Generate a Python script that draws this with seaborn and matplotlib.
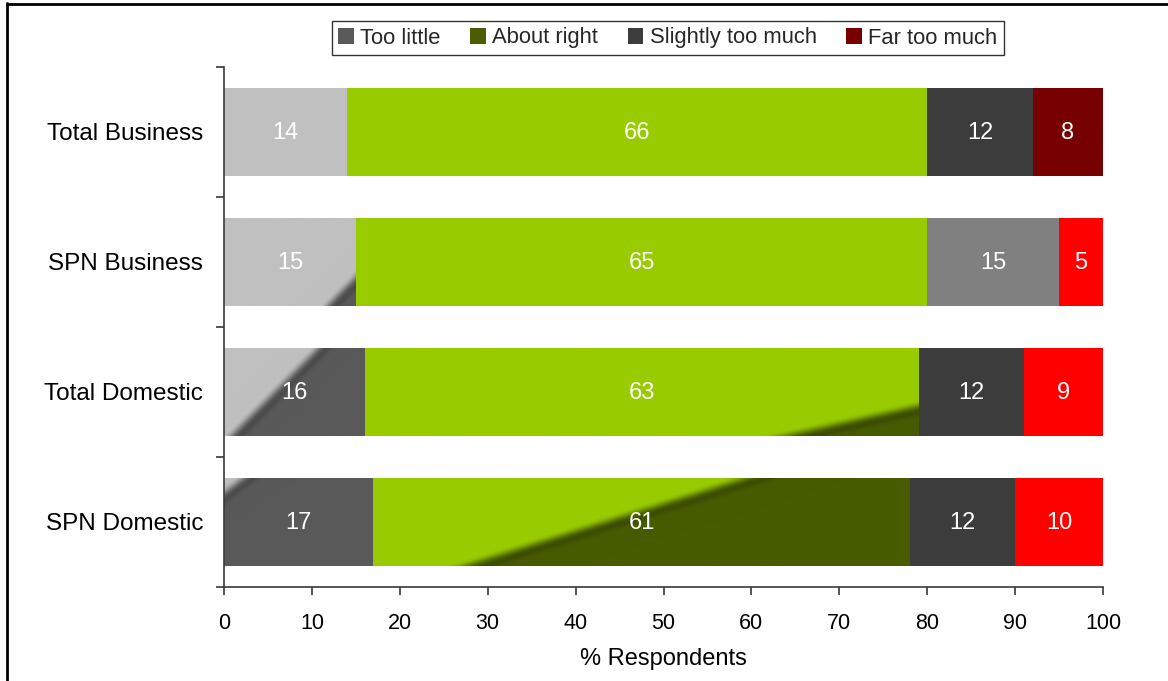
import numpy as np
import pandas as pd
import matplotlib
matplotlib.use("Agg")
import matplotlib.pyplot as plt
import seaborn as sns
from matplotlib.colors import to_rgb
from matplotlib.lines import Line2D
from matplotlib.patches import Patch

# ---- data -------------------------------------------------------------
groups = ["Total Business", "SPN Business", "Total Domestic", "SPN Domestic"]
series = ["Too little", "About right", "Slightly too much", "Far too much"]
too_little = [14, 15, 16, 17]
about_right = [66, 65, 63, 61]
slightly_too_much = [12, 15, 12, 12]
far_too_much = [8, 5, 9, 10]
x_ticks = [0, 10, 20, 30, 40, 50, 60, 70, 80, 90, 100]
x_title = "% Respondents"

# ---- styling ----------------------------------------------------------
legend_colors = {
    "Too little": "#595959",
    "About right": "#4a5e00",
    "Slightly too much": "#3c3c3c",
    "Far too much": "#770000",
}
bar_colors = {
    "Too little": ["#c0c0c0"] * 4,
    "About right": ["#99cc00"] * 4,
    "Slightly too much": ["#3c3c3c", "#808080", "#3c3c3c", "#3c3c3c"],
    "Far too much": ["#770000", "#ff0000", "#ff0000", "#ff0000"],
}
# diagonal two-tone shading: (light, dark, edge position at bar top, at bar bottom)
shading = {
    ("Too little", "SPN Business"): ("#c0c0c0", "#595959", 1.45, 0.80),
    ("Too little", "Total Domestic"): ("#c0c0c0", "#595959", 0.68, 0.064),
    ("Too little", "SPN Domestic"): ("#c0c0c0", "#595959", 0.14, -0.64),
    ("About right", "Total Domestic"): ("#99cc00", "#475b00", 1.47, 0.77),
    ("About right", "SPN Domestic"): ("#99cc00", "#475b00", 0.70, 0.178),
}

sns.set_theme(style="white")
plt.rcParams["font.family"] = ["Liberation Sans", "DejaVu Sans"]

W, H, DPI = 1168, 681, 100
fig = plt.figure(figsize=(W / DPI, H / DPI), dpi=DPI)
fig.patch.set_facecolor("white")
ax = fig.add_axes([224 / W, 1 - 587 / H, (1103 - 224) / W, (587 - 67) / H])

values = {
    "Too little": too_little,
    "About right": about_right,
    "Slightly too much": slightly_too_much,
    "Far too much": far_too_much,
}
df = pd.DataFrame({"group": groups, **values})
cum = df[series].cumsum(axis=1)
starts = cum - df[series]
for s in series:
    df["end_" + s] = cum[s]

bar_h = 0.67
containers = {}
# draw cumulative totals from the longest to the shortest so each segment shows
for s in reversed(series):
    sns.barplot(data=df, x="end_" + s, y="group", order=groups, orient="h",
                color=bar_colors[s][0], saturation=1, width=bar_h,
                errorbar=None, ax=ax, linewidth=0)
    containers[s] = ax.containers[-1]
    for patch, c in zip(containers[s].patches, bar_colors[s]):
        patch.set_facecolor(c)
        patch.set_edgecolor("none")

fig.canvas.draw()
pos = ax.get_position()
px_per_unit = pos.width * W / 100.0
px_per_cat = pos.height * H / 4.0


def two_tone(light, dark, u_top, u_bot, w_px, h_px, soft=14.0, nx=400, ny=120):
    light = np.array(to_rgb(light))
    dark = np.array(to_rgb(dark))
    u = np.linspace(0, 1, nx)[None, :]
    v = np.linspace(0, 1, ny)[:, None]
    u_line = u_top + (u_bot - u_top) * v
    dx = (u_bot - u_top) * w_px
    d = (u - u_line) * w_px * h_px / np.hypot(dx, h_px)
    t = np.clip(0.5 + d / soft, 0, 1)
    t = t * t * (3 - 2 * t)
    rgb = (1 - t)[..., None] * light + t[..., None] * dark
    # slightly deeper band along the edge, like a glossy fold
    band = np.exp(-((d - soft * 0.2) / (soft * 0.35)) ** 2)[..., None]
    return np.clip(rgb * (1 - 0.25 * band), 0, 1)


for s in series:
    for i, (patch, g) in enumerate(zip(containers[s].patches, groups)):
        left = starts.loc[i, s]
        right = cum.loc[i, s]
        y0 = patch.get_y()
        y1 = y0 + patch.get_height()
        if (s, g) in shading:
            light, dark, ut, ub = shading[(s, g)]
            img = two_tone(light, dark, ut, ub,
                           (right - left) * px_per_unit,
                           patch.get_height() * px_per_cat)
            ax.imshow(img, extent=(left, right, y1, y0), origin="upper",
                      aspect="auto", interpolation="bilinear", zorder=1.5)
        ax.text((left + right) / 2, (y0 + y1) / 2 + 0.01, str(values[s][i]),
                color="white", ha="center", va="center", fontsize=17, zorder=3)

# ---- axes -------------------------------------------------------------
ax.set_xlim(0, 100)
ax.set_ylim(3.5, -0.5)
ax.set_xticks(x_ticks)
ax.set_xticklabels([str(t) for t in x_ticks], fontsize=15.5)
ax.set_yticks([-0.5, 0.5, 1.5, 2.5, 3.5])
ax.set_yticklabels([])
ax.set_yticks(range(len(groups)), minor=True)
ax.set_yticklabels(groups, minor=True, fontsize=17.5)
ax.tick_params(axis="y", which="major", direction="out", length=6, width=1.2,
               color="#3a3a3a", left=True)
ax.tick_params(axis="y", which="minor", length=0, pad=15, labelcolor="black")
ax.tick_params(axis="x", direction="out", length=6, width=1.2, color="#3a3a3a",
               bottom=True, pad=12.5, labelcolor="black")
ax.set_ylabel("")
ax.set_xlabel(x_title, fontsize=17, labelpad=10, color="black")
for side in ["top", "right"]:
    ax.spines[side].set_visible(False)
for side in ["left", "bottom"]:
    ax.spines[side].set_color("#3a3a3a")
    ax.spines[side].set_linewidth(1.2)
ax.grid(False)
ax.set_facecolor("white")

# ---- legend -----------------------------------------------------------
handles = [Patch(facecolor=legend_colors[s], edgecolor="none", label=s) for s in series]
leg = fig.legend(handles=handles, loc="center", ncol=4,
                 bbox_to_anchor=(668 / W, 1 - 38 / H), fontsize=15.8,
                 frameon=True, fancybox=False, shadow=False,
                 handlelength=0.7, handleheight=0.7, handletextpad=0.3,
                 columnspacing=1.35, borderpad=0.3)
leg.get_frame().set_edgecolor("black")
leg.get_frame().set_linewidth(1.0)

# ---- chart frame ------------------------------------------------------
fig.add_artist(Line2D([7 / W, 7 / W], [0, 1 - 3 / H], transform=fig.transFigure,
                      color="black", lw=2))
fig.add_artist(Line2D([7 / W, 1], [1 - 4 / H, 1 - 4 / H], transform=fig.transFigure,
                      color="black", lw=2))

fig.savefig("out.png", dpi=DPI, facecolor="white")
